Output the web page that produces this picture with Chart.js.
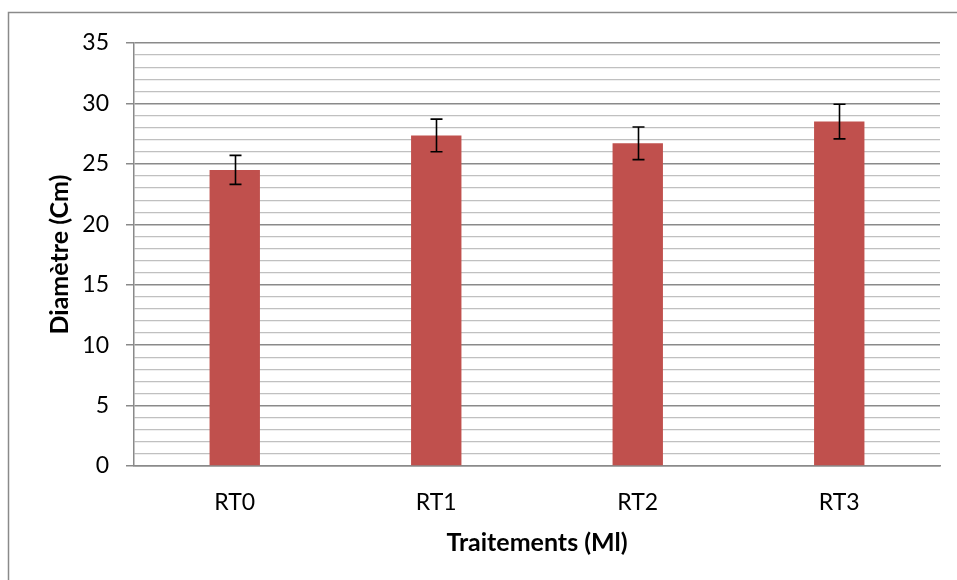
<!DOCTYPE html>
<html>
<head>
<meta charset="utf-8">
<script src="https://cdn.jsdelivr.net/npm/chart.js@4/dist/chart.umd.min.js"></script>
<style>
  html, body { margin: 0; padding: 0; background: #fff; }
  #wrap { width: 957px; height: 580px; position: relative; }
</style>
</head>
<body>
<div id="wrap"><canvas id="myChart" width="957" height="580"></canvas></div>
<script>
// data
var categories = ['RT0', 'RT1', 'RT2', 'RT3'];
var diametre = [24.5, 27.35, 26.7, 28.5];
var erreur = [1.2, 1.35, 1.35, 1.43];

var fontFam = 'Lato, "Open Sans", sans-serif';

// outer frame + error bars
var extras = {
  id: 'extras',
  beforeDraw: function(chart) {
    var c = chart.ctx;
    c.save();
    c.fillStyle = '#fff';
    c.fillRect(0, 0, chart.width, chart.height);
    c.strokeStyle = '#8a8a8a';
    c.lineWidth = 1.5;
    c.strokeRect(8.5, 12.5, 1200, 1200);
    c.restore();
  },
  afterDatasetsDraw: function(chart) {
    var c = chart.ctx;
    var meta = chart.getDatasetMeta(0);
    var y = chart.scales.y;
    c.save();
    c.strokeStyle = '#000';
    c.lineWidth = 1.6;
    meta.data.forEach(function(bar, i) {
      var x = Math.round(bar.x) + 0.5;
      var top = y.getPixelForValue(diametre[i] + erreur[i]);
      var bot = y.getPixelForValue(diametre[i] - erreur[i]);
      c.beginPath();
      c.moveTo(x, top); c.lineTo(x, bot);
      c.moveTo(x - 6, top); c.lineTo(x + 6, top);
      c.moveTo(x - 6, bot); c.lineTo(x + 6, bot);
      c.stroke();
    });
    c.restore();
  }
};

var ctx = document.getElementById('myChart').getContext('2d');
var chart = new Chart(ctx, {
  type: 'bar',
  data: {
    labels: categories,
    datasets: [{
      data: diametre,
      backgroundColor: '#C0504D',
      borderWidth: 0,
      categoryPercentage: 1,
      barPercentage: 0.25
    }]
  },
  options: {
    responsive: false,
    animation: false,
    layout: { padding: { top: 43, right: 17, bottom: 0, left: 0 } },
    plugins: { legend: { display: false }, tooltip: { enabled: false } },
    scales: {
      x: {
        grid: { display: false, drawTicks: false },
        border: { color: '#8a8a8a', width: 1.5 },
        ticks: { color: '#000', padding: 23, font: { family: fontFam, size: 23 } },
        title: {
          display: true, text: 'Traitements (Ml)', color: '#000',
          font: { family: fontFam, size: 25, weight: 'bold' },
          padding: { top: 0, bottom: 22 }
        },
        afterFit: function(s) { s.height = 114; }
      },
      y: {
        min: 0, max: 35,
        border: { color: '#8a8a8a', width: 1.5 },
        grid: {
          tickLength: 8,
          color: function(c) { return c.tick.value % 5 === 0 ? '#8a8a8a' : '#c0c0c0'; },
          lineWidth: function(c) { return c.tick.value % 5 === 0 ? 1.5 : 1.2; },
          tickColor: function(c) { return c.tick.value % 5 === 0 ? '#8a8a8a' : 'rgba(0,0,0,0)'; }
        },
        ticks: {
          stepSize: 1, autoSkip: false, color: '#000', padding: 17,
          font: { family: fontFam, size: 23 },
          callback: function(v) { return v % 5 === 0 ? v : ''; }
        },
        title: {
          display: true, text: 'Diamètre (Cm)', color: '#000',
          font: { family: fontFam, size: 25, weight: 'bold' },
          padding: { top: 45, bottom: 0 }
        },
        afterFit: function(s) { s.width = 134; }
      }
    }
  },
  plugins: [extras]
});
</script>
</body>
</html>
